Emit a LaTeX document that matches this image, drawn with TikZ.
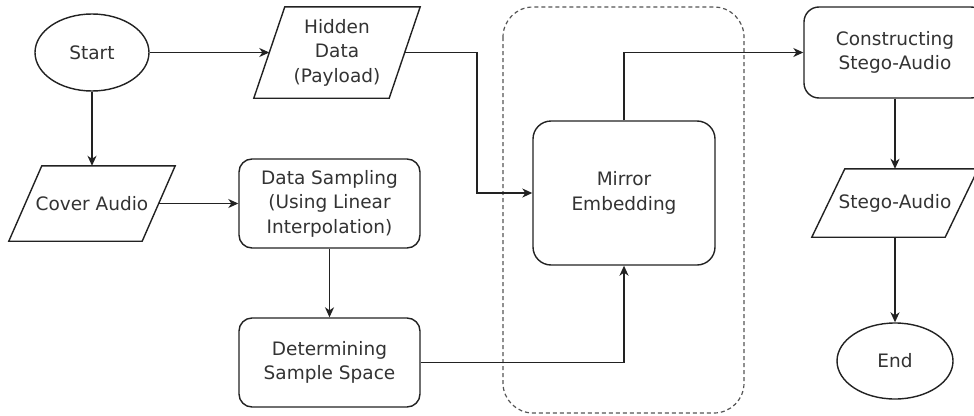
\documentclass[tikz,border=0pt]{standalone}
\usepackage{fontspec}
\setmainfont{DejaVu Sans}
\usetikzlibrary{arrows.meta,shapes.geometric,calc}
\definecolor{txtgray}{HTML}{333333}
\definecolor{linegray}{HTML}{222222}
\definecolor{dashgray}{HTML}{555555}
\begin{document}
\begin{tikzpicture}[x=1pt,y=-1pt,
  every node/.style={font=\fontsize{18.5}{24.5}\selectfont, text=txtgray, align=center},
  shp/.style={draw=linegray, line width=1.4pt},
  rbox/.style={shp, rounded corners=13pt, minimum width=181pt, minimum height=89pt, inner sep=0pt},
  io/.style={minimum width=166pt, inner sep=0pt},
  oval/.style={shp, ellipse, inner sep=0pt},
  conn/.style={draw=linegray, line width=1.4pt, -{Stealth[length=10pt,width=9pt,inset=3pt]}},
  grp/.style={draw=dashgray, line width=1.2pt, dash pattern=on 4pt off 3pt, rounded corners=30pt}
  ]
\useasboundingbox (0,0) rectangle (974,415);
\clip (0,0) rectangle (974,415);
\fill[white] (0,0) rectangle (974,415);

% group
\draw[grp] (503,7) rectangle (744,413);

% nodes
\node[oval, minimum width=114pt, minimum height=77pt] (start) at (92,52.5) {Start};

\node[io, minimum height=91pt] (hd) at (337,52.5) {Hidden\\Data\\(Payload)};
\draw[shp] ($(hd.north west)+(31,0)$) -- (hd.north east) -- ($(hd.south east)+(-31,0)$) -- (hd.south west) -- cycle;
\coordinate (hdL) at ($(hd.west)+(15.5,0)$);
\coordinate (hdR) at ($(hd.east)+(-15.5,0)$);

\node[io, minimum height=75pt] (cover) at (92,203.5) {Cover Audio};
\draw[shp] ($(cover.north west)+(33,0)$) -- (cover.north east) -- ($(cover.south east)+(-33,0)$) -- (cover.south west) -- cycle;
\coordinate (coverR) at ($(cover.east)+(-16.5,0)$);

\node[rbox] (ds) at (329.5,203.5) {Data Sampling\\(Using Linear\\Interpolation)};
\node[rbox] (det) at (329.5,362.5) {Determining\\Sample Space};

\node[rbox, rounded corners=18pt, minimum width=182pt, minimum height=144pt] (mirror) at (624,193) {Mirror\\Embedding};

\node[rbox, rounded corners=15pt, minimum width=182pt, minimum height=91pt] (cons) at (895,52.5) {Constructing\\Stego-Audio};

\node[io, minimum height=68pt] (stego) at (895,203) {Stego-Audio};
\draw[shp] ($(stego.north west)+(33,0)$) -- (stego.north east) -- ($(stego.south east)+(-33,0)$) -- (stego.south west) -- cycle;

\node[oval, minimum width=116pt, minimum height=76pt] (end) at (895,361) {End};

% connectors
\draw[conn] (start.east) -- (hdL);
\draw[conn] (start.south) -- (cover.north);
\draw[conn] (coverR) -- (ds.west);
\draw[conn] (hdR) -- (477,52.5) |- (mirror.west);
\draw[conn] (ds.south) -- (det.north);
\draw[conn] (det.east) -| (mirror.south);
\draw[conn] (mirror.north) |- (cons.west);
\draw[conn] (cons.south) -- (stego.north);
\draw[conn] (stego.south) -- (end.north);
\end{tikzpicture}
\end{document}
